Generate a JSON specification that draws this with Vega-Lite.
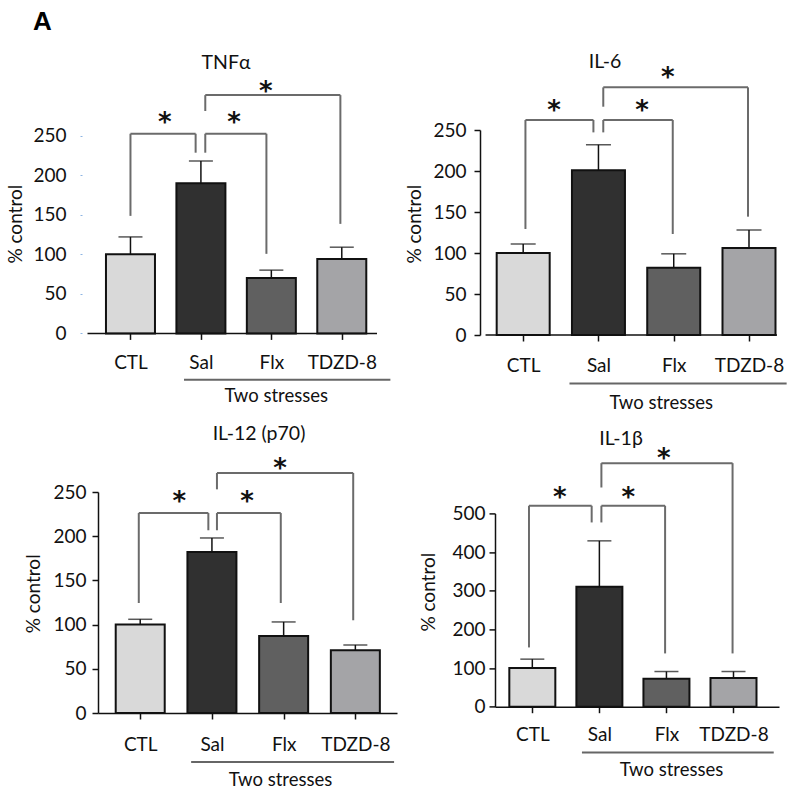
{
  "$schema": "https://vega.github.io/schema/vega-lite/v6.json",
  "padding": {"left": 6, "top": 8, "right": 5, "bottom": 5},
  "title": {"text": "A", "anchor": "start", "frame": "bounds", "font": "Liberation Sans", "fontSize": 26, "fontWeight": "bold", "color": "#000", "dx": 27, "offset": 17},
  "datasets": {
    "tnf": [
      {"cond": "CTL", "pos": 1, "mean": 100, "upper": 122},
      {"cond": "Sal", "pos": 2, "mean": 190, "upper": 218},
      {"cond": "Flx", "pos": 3, "mean": 70, "upper": 80},
      {"cond": "TDZD-8", "pos": 4, "mean": 94, "upper": 109}
    ],
    "tnf_sig": [
      {"x1": 1, "x2": 1.925, "top": 252.5, "yl": 148.6, "yr": 228.5, "sx": 1.486, "sy": 272, "star": "*"},
      {"x1": 2.062, "x2": 2.93, "top": 252.5, "yl": 228.5, "yr": 100.6, "sx": 2.47, "sy": 272, "star": "*"},
      {"x1": 2.062, "x2": 3.98, "top": 301.3, "yl": 281.2, "yr": 138.5, "sx": 2.92, "sy": 311, "star": "*"}
    ],
    "il6": [
      {"cond": "CTL", "pos": 1, "mean": 100, "upper": 111},
      {"cond": "Sal", "pos": 2, "mean": 201, "upper": 232},
      {"cond": "Flx", "pos": 3, "mean": 82, "upper": 99},
      {"cond": "TDZD-8", "pos": 4, "mean": 106, "upper": 128}
    ],
    "il6_sig": [
      {"x1": 1.03, "x2": 1.933, "top": 262.2, "yl": 129.3, "yr": 247.1, "sx": 1.41, "sy": 279.6, "star": "*"},
      {"x1": 2.064, "x2": 2.987, "top": 262.2, "yl": 247.1, "yr": 123.2, "sx": 2.58, "sy": 279.6, "star": "*"},
      {"x1": 2.064, "x2": 3.987, "top": 302, "yl": 278.4, "yr": 144.3, "sx": 2.92, "sy": 319, "star": "*"}
    ],
    "il12": [
      {"cond": "CTL", "pos": 1, "mean": 100, "upper": 106},
      {"cond": "Sal", "pos": 2, "mean": 182, "upper": 198},
      {"cond": "Flx", "pos": 3, "mean": 87, "upper": 103},
      {"cond": "TDZD-8", "pos": 4, "mean": 71, "upper": 77}
    ],
    "il12_sig": [
      {"x1": 0.98, "x2": 1.95, "top": 226.2, "yl": 124.4, "yr": 206.7, "sx": 1.546, "sy": 244, "star": "*"},
      {"x1": 2.07, "x2": 2.96, "top": 226.2, "yl": 206.7, "yr": 124.4, "sx": 2.49, "sy": 244, "star": "*"},
      {"x1": 2.07, "x2": 3.97, "top": 271.5, "yl": 253, "yr": 104.9, "sx": 2.95, "sy": 281.3, "star": "*"}
    ],
    "il1b": [
      {"cond": "CTL", "pos": 1, "mean": 100, "upper": 123},
      {"cond": "Sal", "pos": 2, "mean": 310, "upper": 429},
      {"cond": "Flx", "pos": 3, "mean": 72, "upper": 91},
      {"cond": "TDZD-8", "pos": 4, "mean": 74, "upper": 91}
    ],
    "il1b_sig": [
      {"x1": 0.95, "x2": 1.885, "top": 519.8, "yl": 153.3, "yr": 476.6, "sx": 1.41, "sy": 554, "star": "*"},
      {"x1": 2.03, "x2": 2.98, "top": 519.8, "yl": 476.6, "yr": 137.8, "sx": 2.43, "sy": 554, "star": "*"},
      {"x1": 2.03, "x2": 3.986, "top": 630, "yl": 567, "yr": 137.8, "sx": 2.96, "sy": 654, "star": "*"}
    ]
  },
  "hconcat": [
    {
      "vconcat": [
        {
          "width": 284, "height": 203.4,
          "title": {"text": "TNFα", "dx": -14, "offset": 6},
          "data": {"name": "tnf"},
          "layer": [
            {
              "mark": {"type": "bar", "orient": "vertical", "width": 49, "stroke": "#111", "strokeWidth": 2},
              "encoding": {
                "x": {"field": "pos", "type": "quantitative", "scale": {"domain": [0.61, 4.5], "nice": false, "zero": false},
                  "axis": {"values": [1, 2, 3, 4], "labelExpr": "['','CTL','Sal','Flx','TDZD-8'][datum.value]", "domain": false, "labelPadding": 23, "labelBaseline": "middle", "title": "Two stresses", "titleX": 177.7, "titleY": 62.3, "titleBaseline": "middle", "titleFontSize": 18.5}},
                "y": {"field": "mean", "type": "quantitative", "scale": {"domain": [0, 257.2], "nice": false},
                  "axis": {"values": [0, 50, 100, 150, 200, 250], "labelOverlap": false, "offset": 16, "domain": false, "tickColor": "#8db4e2", "tickSize": 2, "tickWidth": 1, "labelPadding": 14, "title": "% control", "titleX": -67, "titleY": 93.7, "titleBaseline": "middle"}},
                "y2": {"datum": 0},
                "fill": {"field": "cond", "type": "nominal", "scale": {"domain": ["CTL", "Sal", "Flx", "TDZD-8"], "range": ["#d9d9d9", "#303030", "#606060", "#a4a4a7"]}, "legend": null}
              }
            },
            {"mark": {"type": "rule", "color": "#111", "strokeWidth": 1.5}, "encoding": {"x": {"field": "pos", "type": "quantitative"}, "y": {"field": "mean", "type": "quantitative"}, "y2": {"field": "upper"}}},
            {"mark": {"type": "tick", "orient": "horizontal", "size": 24, "thickness": 1.5, "color": "#111"}, "encoding": {"x": {"field": "pos", "type": "quantitative"}, "y": {"field": "upper", "type": "quantitative"}}},
            {"data": {"values": [{}]}, "mark": {"type": "rule", "color": "#111", "strokeWidth": 1.5}, "encoding": {"x": {"datum": 0.39}, "x2": {"datum": 4.5}, "y": {"datum": 0}}},
            {"data": {"values": [{}]}, "mark": {"type": "rule", "color": "#666", "strokeWidth": 2}, "encoding": {"x": {"datum": 1.76}, "x2": {"datum": 4.69}, "y": {"datum": -58.5}}},
            {"data": {"name": "tnf_sig"}, "mark": {"type": "rule", "color": "#6b6b6b", "strokeWidth": 2}, "encoding": {"x": {"field": "x1", "type": "quantitative"}, "x2": {"field": "x2"}, "y": {"field": "top", "type": "quantitative"}}},
            {"data": {"name": "tnf_sig"}, "mark": {"type": "rule", "color": "#6b6b6b", "strokeWidth": 2}, "encoding": {"x": {"field": "x1", "type": "quantitative"}, "y": {"field": "yl", "type": "quantitative"}, "y2": {"field": "top"}}},
            {"data": {"name": "tnf_sig"}, "mark": {"type": "rule", "color": "#6b6b6b", "strokeWidth": 2}, "encoding": {"x": {"field": "x2", "type": "quantitative"}, "y": {"field": "yr", "type": "quantitative"}, "y2": {"field": "top"}}},
            {"data": {"name": "tnf_sig"}, "mark": {"type": "text", "font": "DejaVu Sans", "fontWeight": "bold", "fontSize": 26, "baseline": "middle", "dy": 5, "color": "#111"}, "encoding": {"x": {"field": "sx", "type": "quantitative"}, "y": {"field": "sy", "type": "quantitative"}, "text": {"field": "star"}}}
          ]
        },
        {
          "width": 299, "height": 221,
          "title": {"text": "IL-12 (p70)", "dx": 11.5, "offset": 12},
          "data": {"name": "il12"},
          "layer": [
            {
              "mark": {"type": "bar", "orient": "vertical", "width": 49, "stroke": "#111", "strokeWidth": 2},
              "encoding": {
                "x": {"field": "pos", "type": "quantitative", "scale": {"domain": [0.481, 4.511], "nice": false, "zero": false},
                  "axis": {"values": [1, 2, 3, 4], "labelExpr": "['','CTL','Sal','Flx','TDZD-8'][datum.value]", "labelPadding": 25.6, "labelBaseline": "middle", "title": "Two stresses", "titleX": 182, "titleY": 66.3, "titleBaseline": "middle", "titleFontSize": 18.5}},
                "y": {"field": "mean", "type": "quantitative", "scale": {"domain": [0, 250], "nice": false},
                  "axis": {"values": [0, 50, 100, 150, 200, 250], "labelOverlap": false, "labelPadding": 6, "title": "% control", "titleX": -64.5, "titleY": 101.3, "titleBaseline": "middle"}},
                "y2": {"datum": 0},
                "fill": {"field": "cond", "type": "nominal", "scale": {"domain": ["CTL", "Sal", "Flx", "TDZD-8"], "range": ["#d9d9d9", "#303030", "#606060", "#a4a4a7"]}, "legend": null}
              }
            },
            {"mark": {"type": "rule", "color": "#111", "strokeWidth": 1.5}, "encoding": {"x": {"field": "pos", "type": "quantitative"}, "y": {"field": "mean", "type": "quantitative"}, "y2": {"field": "upper"}}},
            {"mark": {"type": "tick", "orient": "horizontal", "size": 24, "thickness": 1.5, "color": "#111"}, "encoding": {"x": {"field": "pos", "type": "quantitative"}, "y": {"field": "upper", "type": "quantitative"}}},
            {"data": {"values": [{}]}, "mark": {"type": "rule", "color": "#666", "strokeWidth": 2}, "encoding": {"x": {"datum": 1.71}, "x2": {"datum": 4.54}, "y": {"datum": -55.4}}},
            {"data": {"name": "il12_sig"}, "mark": {"type": "rule", "color": "#6b6b6b", "strokeWidth": 2}, "encoding": {"x": {"field": "x1", "type": "quantitative"}, "x2": {"field": "x2"}, "y": {"field": "top", "type": "quantitative"}}},
            {"data": {"name": "il12_sig"}, "mark": {"type": "rule", "color": "#6b6b6b", "strokeWidth": 2}, "encoding": {"x": {"field": "x1", "type": "quantitative"}, "y": {"field": "yl", "type": "quantitative"}, "y2": {"field": "top"}}},
            {"data": {"name": "il12_sig"}, "mark": {"type": "rule", "color": "#6b6b6b", "strokeWidth": 2}, "encoding": {"x": {"field": "x2", "type": "quantitative"}, "y": {"field": "yr", "type": "quantitative"}, "y2": {"field": "top"}}},
            {"data": {"name": "il12_sig"}, "mark": {"type": "text", "font": "DejaVu Sans", "fontWeight": "bold", "fontSize": 26, "baseline": "middle", "dy": 5, "color": "#111"}, "encoding": {"x": {"field": "sx", "type": "quantitative"}, "y": {"field": "sy", "type": "quantitative"}, "text": {"field": "star"}}}
          ]
        }
      ],
      "spacing": 158,
      "bounds": "flush"
    },
    {
      "vconcat": [
        {
          "width": 287, "height": 205,
          "title": {"text": "IL-6", "dx": -33.5, "offset": -7},
          "data": {"name": "il6"},
          "layer": [
            {
              "mark": {"type": "bar", "orient": "vertical", "width": 53, "stroke": "#111", "strokeWidth": 2},
              "encoding": {
                "x": {"field": "pos", "type": "quantitative", "scale": {"domain": [0.692, 4.372], "nice": false, "zero": false},
                  "axis": {"values": [1, 2, 3, 4], "labelExpr": "['','CTL','Sal','Flx','TDZD-8'][datum.value]", "domain": false, "labelPadding": 24.5, "labelBaseline": "middle", "title": "Two stresses", "titleX": 165.7, "titleY": 67.4, "titleBaseline": "middle", "titleFontSize": 18.5}},
                "y": {"field": "mean", "type": "quantitative", "scale": {"domain": [0, 250], "nice": false},
                  "axis": {"values": [0, 50, 100, 150, 200, 250], "labelOverlap": false, "offset": 15, "labelPadding": 8, "title": "% control", "titleX": -65.5, "titleY": 93.7, "titleBaseline": "middle"}},
                "y2": {"datum": 0},
                "fill": {"field": "cond", "type": "nominal", "scale": {"domain": ["CTL", "Sal", "Flx", "TDZD-8"], "range": ["#d9d9d9", "#303030", "#606060", "#a4a4a7"]}, "legend": null}
              }
            },
            {"mark": {"type": "rule", "color": "#111", "strokeWidth": 1.5}, "encoding": {"x": {"field": "pos", "type": "quantitative"}, "y": {"field": "mean", "type": "quantitative"}, "y2": {"field": "upper"}}},
            {"mark": {"type": "tick", "orient": "horizontal", "size": 25, "thickness": 1.5, "color": "#111"}, "encoding": {"x": {"field": "pos", "type": "quantitative"}, "y": {"field": "upper", "type": "quantitative"}}},
            {"data": {"values": [{}]}, "mark": {"type": "rule", "color": "#111", "strokeWidth": 1.5}, "encoding": {"x": {"datum": 0.5}, "x2": {"datum": 4.372}, "y": {"datum": 0}}},
            {"data": {"values": [{}]}, "mark": {"type": "rule", "color": "#666", "strokeWidth": 2}, "encoding": {"x": {"datum": 1.615}, "x2": {"datum": 4.5}, "y": {"datum": -59}}},
            {"data": {"name": "il6_sig"}, "mark": {"type": "rule", "color": "#6b6b6b", "strokeWidth": 2}, "encoding": {"x": {"field": "x1", "type": "quantitative"}, "x2": {"field": "x2"}, "y": {"field": "top", "type": "quantitative"}}},
            {"data": {"name": "il6_sig"}, "mark": {"type": "rule", "color": "#6b6b6b", "strokeWidth": 2}, "encoding": {"x": {"field": "x1", "type": "quantitative"}, "y": {"field": "yl", "type": "quantitative"}, "y2": {"field": "top"}}},
            {"data": {"name": "il6_sig"}, "mark": {"type": "rule", "color": "#6b6b6b", "strokeWidth": 2}, "encoding": {"x": {"field": "x2", "type": "quantitative"}, "y": {"field": "yr", "type": "quantitative"}, "y2": {"field": "top"}}},
            {"data": {"name": "il6_sig"}, "mark": {"type": "text", "font": "DejaVu Sans", "fontWeight": "bold", "fontSize": 26, "baseline": "middle", "dy": 5, "color": "#111"}, "encoding": {"x": {"field": "sx", "type": "quantitative"}, "y": {"field": "sy", "type": "quantitative"}, "text": {"field": "star"}}}
          ]
        },
        {
          "width": 284, "height": 193.3,
          "title": {"text": "IL-1β", "dx": -16, "offset": -4},
          "data": {"name": "il1b"},
          "layer": [
            {
              "mark": {"type": "bar", "orient": "vertical", "width": 46, "stroke": "#111", "strokeWidth": 2},
              "encoding": {
                "x": {"field": "pos", "type": "quantitative", "scale": {"domain": [0.518, 4.604], "nice": false, "zero": false},
                  "axis": {"values": [1, 2, 3, 4], "labelExpr": "['','CTL','Sal','Flx','TDZD-8'][datum.value]", "labelPadding": 21.3, "labelBaseline": "middle", "title": "Two stresses", "titleX": 176, "titleY": 63, "titleBaseline": "middle", "titleFontSize": 18.5}},
                "y": {"field": "mean", "type": "quantitative", "scale": {"domain": [0, 500], "nice": false},
                  "axis": {"values": [0, 100, 200, 300, 400, 500], "tickCount": 6, "labelOverlap": false, "labelPadding": 4, "title": "% control", "titleX": -66.5, "titleY": 78.3, "titleBaseline": "middle"}},
                "y2": {"datum": 0},
                "fill": {"field": "cond", "type": "nominal", "scale": {"domain": ["CTL", "Sal", "Flx", "TDZD-8"], "range": ["#d9d9d9", "#303030", "#606060", "#a4a4a7"]}, "legend": null}
              }
            },
            {"mark": {"type": "rule", "color": "#111", "strokeWidth": 1.5}, "encoding": {"x": {"field": "pos", "type": "quantitative"}, "y": {"field": "mean", "type": "quantitative"}, "y2": {"field": "upper"}}},
            {"mark": {"type": "tick", "orient": "horizontal", "size": 24, "thickness": 1.5, "color": "#111"}, "encoding": {"x": {"field": "pos", "type": "quantitative"}, "y": {"field": "upper", "type": "quantitative"}}},
            {"data": {"values": [{}]}, "mark": {"type": "rule", "color": "#666", "strokeWidth": 2}, "encoding": {"x": {"datum": 1.74}, "x2": {"datum": 4.6}, "y": {"datum": -118.2}}},
            {"data": {"name": "il1b_sig"}, "mark": {"type": "rule", "color": "#6b6b6b", "strokeWidth": 2}, "encoding": {"x": {"field": "x1", "type": "quantitative"}, "x2": {"field": "x2"}, "y": {"field": "top", "type": "quantitative"}}},
            {"data": {"name": "il1b_sig"}, "mark": {"type": "rule", "color": "#6b6b6b", "strokeWidth": 2}, "encoding": {"x": {"field": "x1", "type": "quantitative"}, "y": {"field": "yl", "type": "quantitative"}, "y2": {"field": "top"}}},
            {"data": {"name": "il1b_sig"}, "mark": {"type": "rule", "color": "#6b6b6b", "strokeWidth": 2}, "encoding": {"x": {"field": "x2", "type": "quantitative"}, "y": {"field": "yr", "type": "quantitative"}, "y2": {"field": "top"}}},
            {"data": {"name": "il1b_sig"}, "mark": {"type": "text", "font": "DejaVu Sans", "fontWeight": "bold", "fontSize": 26, "baseline": "middle", "dy": 5, "color": "#111"}, "encoding": {"x": {"field": "sx", "type": "quantitative"}, "y": {"field": "sy", "type": "quantitative"}, "text": {"field": "star"}}}
          ]
        }
      ],
      "spacing": 178.4,
      "bounds": "flush"
    }
  ],
  "spacing": 397,
  "bounds": "flush",
  "config": {
    "font": "Lato",
    "view": {"stroke": null},
    "axis": {"grid": false, "labelOverlap": false, "labelColor": "#111", "titleColor": "#111", "domainColor": "#111", "tickColor": "#111", "labelFont": "Lato", "titleFont": "Lato", "labelFontSize": 19, "titleFontSize": 19, "titleFontWeight": "normal", "domainWidth": 1.5, "tickWidth": 1.5, "tickSize": 6},
    "title": {"font": "Lato", "fontSize": 19.5, "fontWeight": "normal", "color": "#111"}
  }
}
